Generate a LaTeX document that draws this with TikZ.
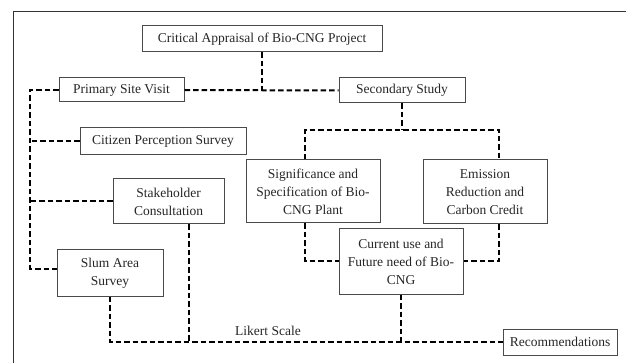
\documentclass[tikz,border=0pt]{standalone}
\usepackage{fontspec}
\setmainfont{Liberation Serif}
\definecolor{txt}{HTML}{262626}
\definecolor{bx}{HTML}{4A4A4A}
\tikzset{
  box/.style={draw=bx, line width=1pt, fill=white, text=txt, align=center, inner sep=2pt,
    font=\fontsize{13.5}{18}\selectfont},
  conn/.style={line width=2pt, dash pattern=on 5.5pt off 3pt, black},
}
\begin{document}
\begin{tikzpicture}[x=1pt,y=-1pt]
\useasboundingbox (0,0) rectangle (626,363);
\fill[white] (0,0) rectangle (626,363);
\draw[line width=1pt, color=black!80] (13,363) -- (13,12) -- (626,12);

\node[box, minimum width=240, minimum height=26] (crit) at (262,39) {Critical Appraisal of Bio-CNG Project};
\node[box, minimum width=125, minimum height=24] (psv) at (121.5,90) {Primary Site Visit};
\node[box, minimum width=126, minimum height=25] (ss) at (402,90.5) {Secondary Study};
\node[box, minimum width=166, minimum height=27] (cps) at (163,141.5) {Citizen Perception Survey};
\node[box, minimum width=111, minimum height=45] (stake) at (168.5,201.5) {Stakeholder\\Consultation};
\node[box, minimum width=106, minimum height=46] (slum) at (110,273) {Slum Area\\Survey};
\node[box, minimum width=134, minimum height=63] (sig) at (313,191.5) {Significance and\\Specification of Bio-\\CNG Plant};
\node[box, minimum width=124, minimum height=64] (emi) at (485,192) {Emission\\Reduction and\\Carbon Credit};
\node[box, minimum width=124, minimum height=65] (cur) at (401,261.5) {Current use and\\Future need of Bio-\\CNG};
\node[box, minimum width=114, minimum height=26] (rec) at (560,342) {Recommendations};
\node[text=txt, font=\fontsize{13.5}{18}\selectfont, inner sep=0pt] (lik) at (268,331) {Likert Scale};

\coordinate (bus) at (30,90);
\coordinate (ssj) at (402,130);

\draw[conn] (crit.south) -- (crit.south |- psv.east);
\draw[conn] (psv.east) -- (ss.west);
\draw[conn] (psv.west) -- (bus) |- ([yshift=4]slum.west);
\draw[conn] (cps.west) -- (cps.west -| bus);
\draw[conn] (stake.west) -- (stake.west -| bus);
\draw[conn] (slum.south) |- (rec.west);
\draw[conn] ([xshift=20.5]stake.south) -- ([xshift=20.5]stake.south |- rec.west);
\draw[conn] (cur.south) -- (cur.south |- rec.west);
\draw[conn] (ss.south) -- (ssj);
\draw[conn] ([xshift=-8]sig.north) |- (ssj) -| ([xshift=14]emi.north);
\draw[conn] ([xshift=-8]sig.south) |- (cur.west);
\draw[conn] ([xshift=14]emi.south) |- (cur.east);
\end{tikzpicture}
\end{document}
